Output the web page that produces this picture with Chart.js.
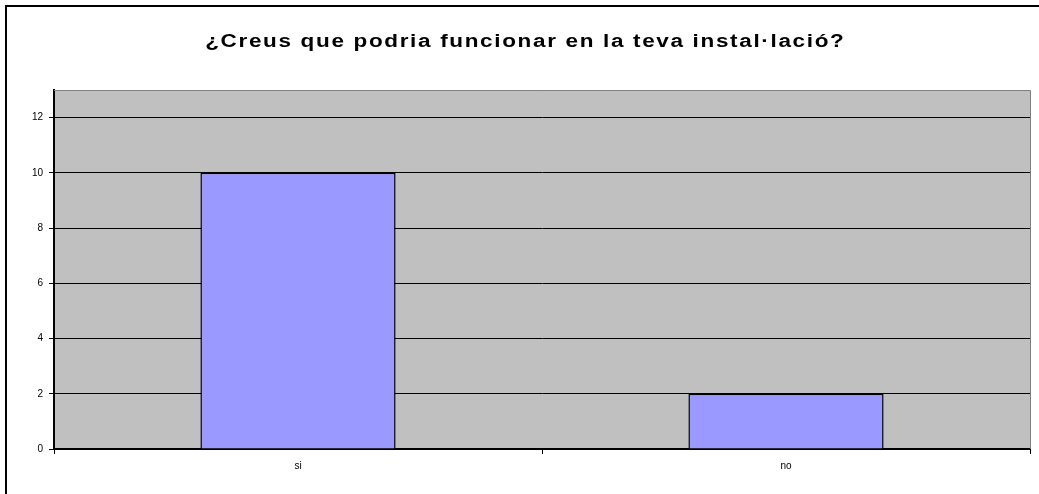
<!DOCTYPE html>
<html>
<head>
<meta charset="utf-8">
<script src="https://cdn.jsdelivr.net/npm/chart.js@4/dist/chart.umd.min.js"></script>
<style>
  html, body { margin: 0; padding: 0; background: #fff; }
  #wrap { width: 1039px; height: 494px; }
</style>
</head>
<body>
<div id="wrap"><canvas id="c" width="1039" height="494"></canvas></div>
<script>
const TITLE = "¿Creus que podria funcionar en la teva instal·lació?"
const CATEGORIES = ["si", "no"]
const VALUES = [10, 2]
const Y_MAX = 13
const Y_STEP = 2

const FONT = "'Liberation Sans', Arial, sans-serif"

// fons gris de l'àrea del gràfic, marc exterior i títol (lletra eixamplada)
const frame = {
  id: "frame",
  beforeDraw(chart) {
    const { ctx, chartArea: a } = chart
    ctx.save()
    ctx.fillStyle = "#c0c0c0"
    ctx.fillRect(a.left, a.top, a.right - a.left, a.bottom - a.top)
    ctx.restore()
  },
  afterDraw(chart) {
    const { ctx, chartArea: a } = chart
    ctx.save()
    ctx.strokeStyle = "#808080"
    ctx.lineWidth = 1
    ctx.beginPath()
    ctx.moveTo(a.left, a.top + 0.5)
    ctx.lineTo(a.right + 0.5, a.top + 0.5)
    ctx.lineTo(a.right + 0.5, a.bottom)
    ctx.stroke()
    ctx.strokeStyle = "#000"
    ctx.lineWidth = 2
    ctx.strokeRect(6, 6, chart.width + 10, chart.height + 10)

    const sx = 1.25
    const spacing = 1.33
    ctx.translate(524.5, 47)
    ctx.scale(sx, 1)
    ctx.font = "bold 18px " + FONT
    ctx.letterSpacing = spacing + "px"
    ctx.fillStyle = "#000"
    ctx.textAlign = "center"
    ctx.textBaseline = "alphabetic"
    ctx.fillText(TITLE, spacing / 2, 0)
    ctx.restore()
  }
}

new Chart(document.getElementById("c"), {
  type: "bar",
  data: {
    labels: CATEGORIES,
    datasets: [{
      data: VALUES,
      backgroundColor: "#9999ff",
      borderColor: "#000",
      borderWidth: 1.5,
      borderSkipped: "bottom",
      categoryPercentage: 0.8,
      barPercentage: 0.5
    }]
  },
  options: {
    responsive: false,
    animation: false,
    layout: { padding: { left: 0, right: 9, top: 90, bottom: 0 } },
    plugins: {
      legend: { display: false },
      tooltip: { enabled: false },
      title: { display: false }
    },
    scales: {
      x: {
        afterFit(axis) { axis.height = 45 },
        grid: { drawOnChartArea: false, drawTicks: true, tickLength: 5, color: "#000", offset: true },
        border: { color: "#000", width: 2 },
        ticks: { color: "#000", font: { family: FONT, size: 10 }, padding: 6 }
      },
      y: {
        min: 0,
        max: Y_MAX,
        afterFit(axis) { axis.width = 54 },
        afterBuildTicks(axis) { axis.ticks = axis.ticks.filter(t => t.value % Y_STEP === 0) },
        grid: { color: "#000", lineWidth: 1, tickLength: 5 },
        border: { color: "#000", width: 2 },
        ticks: { stepSize: Y_STEP, color: "#000", font: { family: FONT, size: 10 }, padding: 6 }
      }
    }
  },
  plugins: [frame]
})
</script>
</body>
</html>
